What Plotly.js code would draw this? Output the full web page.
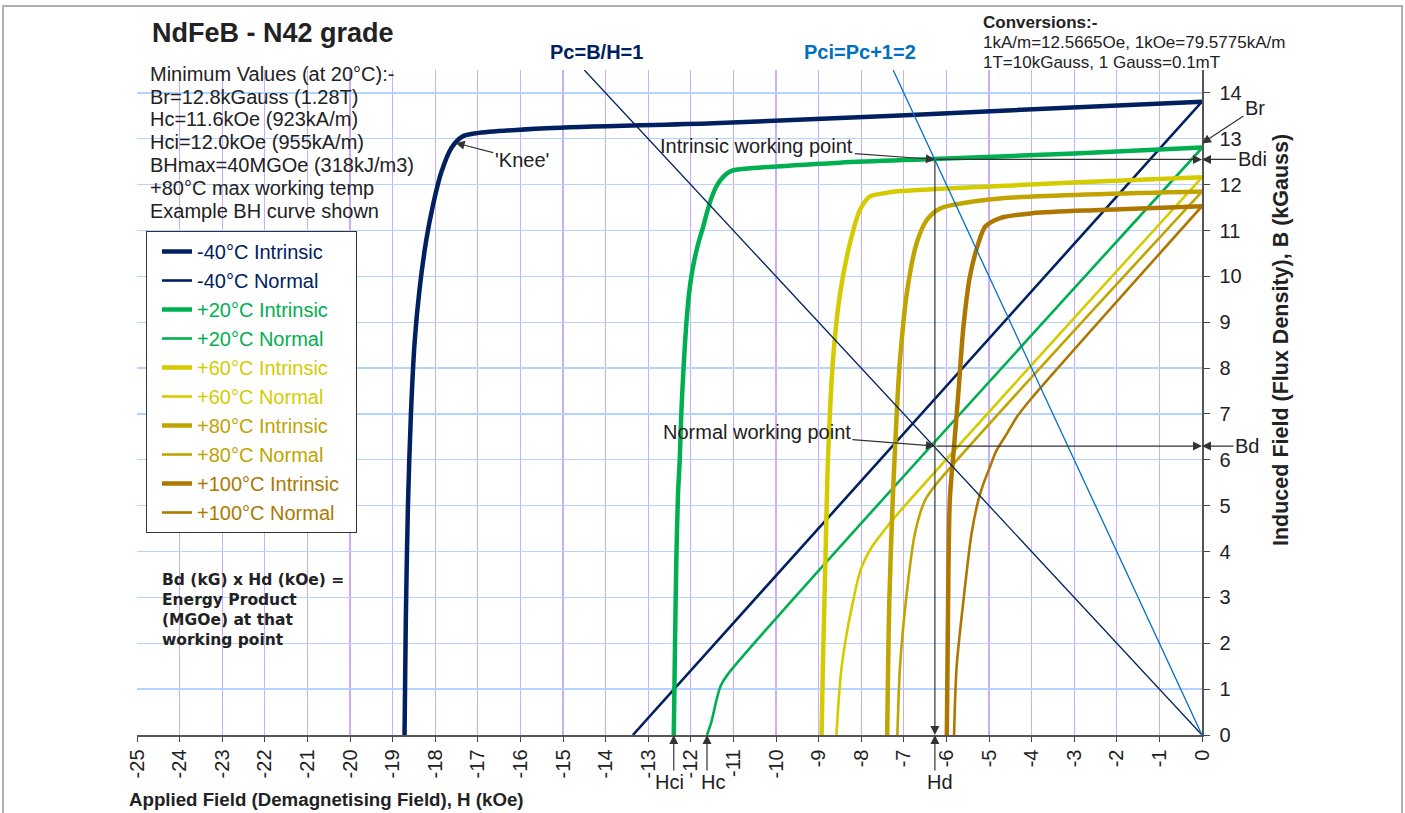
<!DOCTYPE html>
<html><head><meta charset="utf-8">
<script src="https://cdn.plot.ly/plotly-3.0.1.min.js"></script>
<style>html,body{margin:0;padding:0;background:#fff;overflow:hidden}</style>
</head><body><div id="chart" style="width:1405px;height:813px"></div>
<script>
// ---------- data (H in kOe, B in kGauss) ----------
const h40i = [-18.72,-18.69,-18.64,-18.57,-18.48,-18.37,-18.21,-18.06,-17.86,-17.62,-17.36,-17.04,-15.39,-11.48,-7.09,0];
const b40i = [0,2.5,5.0,7.0,8.6,9.7,10.79,11.52,12.26,12.80,13.05,13.12,13.23,13.34,13.51,13.81];
const h40n = [-13.36,0];
const b40n = [0,13.81];

const h20i = [-12.40,-12.37,-12.34,-12.30,-12.26,-12.22,-12.16,-12.11,-12.05,-11.96,-11.83,-11.71,-11.61,-11.51,-11.40,-11.24,-11.09,-10.97,-8.5,-6.3,-3.0,0];
const b20i = [0,2.0,3.81,5.26,5.99,7.08,8.17,8.90,9.55,10.15,10.70,11.08,11.43,11.72,11.96,12.17,12.28,12.32,12.48,12.56,12.68,12.81];
const h20n = [-11.62,-11.51,-11.40,-11.30,-11.15,0];
const b20n = [0,0.31,0.75,1.07,1.30,12.8];

const h60i = [-8.93,-8.90,-8.84,-8.78,-8.66,-8.50,-8.27,-8.03,-7.80,-7.48,-7.09,-4.3,-3.17,0];
const b60i = [0,1.5,3.8,6.0,8.2,9.6,10.7,11.45,11.74,11.81,11.86,11.99,12.04,12.16];
const h60n = [-8.58,-8.46,-8.19,-7.99,-7.75,-7.52,-7.21,0];
const b60n = [0,1.48,2.93,3.66,4.1,4.39,4.75,12.16];

const h80i = [-7.39,-7.34,-7.26,-7.15,-7.09,-6.93,-6.70,-6.46,-6.15,-5.84,-4.74,0];
const b80i = [0,2.93,5.12,7.30,8.17,9.63,10.72,11.23,11.48,11.56,11.70,11.85];
const h80n = [-7.15,-7.09,-6.95,-6.74,-6.50,-6.23,0];
const b80n = [0,1.48,2.93,4.39,5.12,5.48,11.85];

const h100i = [-5.99,-5.96,-5.92,-5.82,-5.72,-5.60,-5.45,-5.25,-5.09,-4.74,-3.96,-2.39,0];
const b100i = [0,2.93,5.12,6.3,7.45,8.90,9.99,10.72,11.08,11.27,11.38,11.45,11.53];
const h100n = [-5.82,-5.76,-5.60,-5.41,-5.25,-5.13,-4.98,-4.82,-4.58,-4.35,-4.04,0];
const b100n = [0,1.48,2.93,4.39,5.12,5.48,5.84,6.21,6.57,6.93,7.30,11.53];

// permeance lines
const pcH = [0,-14.5], pcB = [0,14.5];
const pciH = [0,-7.25], pciB = [0,14.5];

// working point / marked values
const wpH = -6.27, wpBdi = 12.55, wpBd = 6.30;
const hciVal = -12.40, hcVal = -11.62, brVal = 12.9;
const kneeH = -17.52, kneeB = 12.91;

const xTickVals = [-25,-24,-23,-22,-21,-20,-19,-18,-17,-16,-15,-14,-13,-12,-11,-10,-9,-8,-7,-6,-5,-4,-3,-2,-1,0];
const xTickText = ["-25","-24","-23","-22","-21","-20","-19","-18","-17","-16","-15","-14","-13","-12","-11","-10","-9","-8","-7","-6","-5","-4","-3","-2","-1","0"];
const yTickVals = [0,1,2,3,4,5,6,7,8,9,10,11,12,13,14];

const seriesNames = ["-40°C Intrinsic","-40°C Normal","+20°C Intrinsic","+20°C Normal","+60°C Intrinsic","+60°C Normal","+80°C Intrinsic","+80°C Normal","+100°C Intrinsic","+100°C Normal"];

// ---------- style ----------
const fam = '"Liberation Sans", Arial, Helvetica, sans-serif';
const cols = {m40:'#002060', p20:'#00b050', p60:'#d4cc00', p80:'#c0a400', p100:'#ae7800', pci:'#0070c0'};
const L=137, R=1202, T=70, Bt=735;
const px = x => (x-L)/(R-L);
const py = y => (Bt-y)/(Bt-T);

function curve(h,b,name,color,w){
  return {x:h, y:b, type:'scatter', mode:'lines',
    name:'<span style="color:'+color+'">'+name+'&nbsp;&nbsp;</span>',
    line:{color:color, width:w, shape:'spline', smoothing:0.8}, hoverinfo:'skip', legendgroup:name};
}
const WI=4.5, WN=2.6;
const traces = [
  curve(h40i,b40i,seriesNames[0],cols.m40,WI),
  curve(h40n,b40n,seriesNames[1],cols.m40,WN),
  curve(h20i,b20i,seriesNames[2],cols.p20,WI),
  curve(h20n,b20n,seriesNames[3],cols.p20,WN),
  curve(h60i,b60i,seriesNames[4],cols.p60,WI),
  curve(h60n,b60n,seriesNames[5],cols.p60,WN),
  curve(h80i,b80i,seriesNames[6],cols.p80,WI),
  curve(h80n,b80n,seriesNames[7],cols.p80,WN),
  curve(h100i,b100i,seriesNames[8],cols.p100,WI),
  curve(h100n,b100n,seriesNames[9],cols.p100,WN),
  {x:pcH, y:pcB, type:'scatter', mode:'lines', line:{color:cols.m40,width:1.3}, showlegend:false, hoverinfo:'skip'},
  {x:pciH, y:pciB, type:'scatter', mode:'lines', line:{color:cols.pci,width:1.3}, showlegend:false, hoverinfo:'skip'}
];

const txt = '#222';
function ptext(text, x, y, opts){
  return Object.assign({text:text, xref:'paper', yref:'paper', x:px(x), y:py(y), showarrow:false,
    xanchor:'left', yanchor:'middle', font:{family:fam, size:20, color:txt}}, opts||{});
}
const arrowBase = {arrowhead:2, arrowsize:1.5, arrowwidth:1.2, arrowcolor:'#333', showarrow:true};
function arrowData(x,y,ax,ay,text,opts){
  return Object.assign({x:x, y:y, xref:'x', yref:'y', ax:ax, ay:ay, text:text, font:{family:fam,size:20,color:txt}}, arrowBase, opts||{});
}

const annotations = [
  ptext('NdFeB - N42 grade', 150, 33, {font:{family:fam,size:27,color:txt,weight:'bold'}}),
  ptext('Minimum Values (at 20°C):-', 148, 74),
  ptext('Br=12.8kGauss (1.28T)', 148, 97),
  ptext('Hc=11.6kOe (923kA/m)', 148, 119),
  ptext('Hci=12.0kOe (955kA/m)', 148, 142),
  ptext('BHmax=40MGOe (318kJ/m3)', 148, 165),
  ptext('+80°C max working temp', 148, 188),
  ptext('Example BH curve shown', 148, 211),
  ptext('<b>Conversions:-</b>', 981, 22, {font:{family:fam,size:17,color:txt}}),
  ptext('1kA/m=12.5665Oe, 1kOe=79.5775kA/m', 981, 43, {font:{family:fam,size:17,color:txt}}),
  ptext('1T=10kGauss, 1 Gauss=0.1mT', 981, 63, {font:{family:fam,size:17,color:txt}}),
  ptext('<b>Pc=B/H=1</b>', 548, 52, {font:{family:fam,size:20,color:cols.m40}}),
  ptext('<b>Pci=Pc+1=2</b>', 860, 52, {xanchor:'center', font:{family:fam,size:20,color:cols.pci}}),
  ptext('<b>Bd (kG) x Hd (kOe) =<br>Energy Product<br>(MGOe) at that<br>working point</b>', 160, 610,
        {align:'left', font:{family:'"DejaVu Sans", Verdana, sans-serif', size:15.5, color:txt}}),
  // axis titles
  ptext('<b>Applied Field (Demagnetising Field), H (kOe)</b>', 127, 799, {font:{family:fam,size:18.7,color:txt}}),
  ptext('<b>Induced Field (Flux Density), B (kGauss)</b>', 1281, 340, {xanchor:'center', textangle:-90, font:{family:fam,size:21.5,color:txt}}),
  // labelled arrows
  arrowData(kneeH, kneeB, 66, 17, "'Knee'"),
  arrowData(wpH, wpBdi, -178, -13, 'Intrinsic working point'),
  arrowData(wpH, wpBd, -178, -14, 'Normal working point'),
  arrowData(0, brVal, 53, -35, 'Br'),
  arrowData(0, wpBdi, 50, 0, 'Bdi'),
  arrowData(0, wpBd, 45, 0, 'Bd'),
  // lines from working point
  arrowData(0, wpBdi, wpH, wpBdi, '', {axref:'x', ayref:'y'}),
  arrowData(0, wpBd, wpH, wpBd, '', {axref:'x', ayref:'y'}),
  arrowData(wpH, 0, wpH, wpBdi, '', {axref:'x', ayref:'y'}),
  // arrows from below the axis
  arrowData(wpH, 0, 0, 37, ''),
  arrowData(hciVal, 0, 0, 37, ''),
  arrowData(hcVal, 0, 0, 37, ''),
  ptext('Hd', 940, 782, {xanchor:'center'}),
  ptext('Hci', 669, 782, {xanchor:'center'}),
  ptext('Hc', 713, 782, {xanchor:'center'})
];

const shapes = [
  {type:'rect', xref:'paper', yref:'paper', x0:px(3), x1:px(1402), y0:py(818), y1:py(6),
   line:{color:'#b0b0b0', width:2}, fillcolor:'rgba(0,0,0,0)', layer:'below'}
];

const layout = {
  width:1405, height:813,
  margin:{l:L, r:1405-R, t:T, b:813-Bt, pad:0},
  paper_bgcolor:'#fff', plot_bgcolor:'#fff',
  showlegend:true,
  legend:{x:px(146), y:py(231), xanchor:'left', yanchor:'top', bgcolor:'#fff', bordercolor:'#333', borderwidth:1,
          font:{family:fam, size:20, color:txt}, tracegroupgap:0, itemwidth:30, indentation:10},
  xaxis:{range:[-25,0], tickvals:xTickVals, ticktext:xTickText, tickangle:-90, ticks:'outside', ticklen:5, tickcolor:'#444',
         showline:true, linecolor:'#555', linewidth:1.5, showgrid:true, gridcolor:'rgb(203,172,250)', gridwidth:1.3,
         zeroline:false, tickfont:{family:fam, size:20, color:txt}, fixedrange:true},
  yaxis:{range:[0,14.5], side:'right', tickvals:yTickVals, ticks:'outside', ticklen:6, tickcolor:'#444',
         showline:true, linecolor:'#555', linewidth:1.5, showgrid:true, gridcolor:'rgb(180,212,255)', gridwidth:1.3,
         zeroline:false, tickfont:{family:fam, size:20, color:txt}, ticklabelstandoff:6, fixedrange:true},
  annotations:annotations,
  shapes:shapes
};

Plotly.newPlot('chart', traces, layout, {displayModeBar:false, staticPlot:true});
</script></body></html>
